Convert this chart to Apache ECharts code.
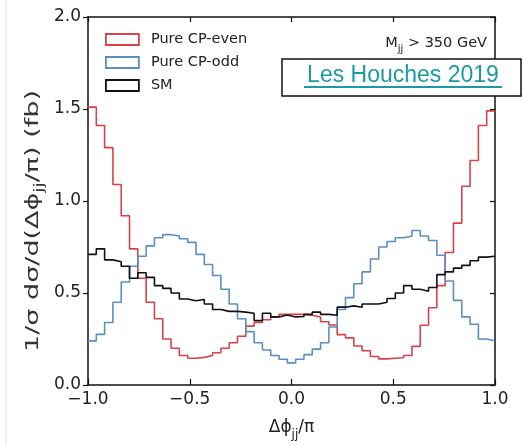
<!DOCTYPE html>
<html>
<head>
<meta charset="utf-8">
<script src="https://cdn.jsdelivr.net/npm/echarts/dist/echarts.min.js"></script>
<style>
html,body{margin:0;padding:0;background:#fff;}
#c{width:523px;height:446px;}
</style>
</head>
<body>
<div id="c"></div>
<script>
// ---- data (49 equal bins from xMin to xMax) ----
const xMin = -1.0, xMax = 1.0;
const yTicks = [0.0, 0.5, 1.0, 1.5, 2.0];
const xTicks = [-1.0, -0.5, 0.0, 0.5, 1.0];
const seriesNames = ['Pure CP-even', 'Pure CP-odd', 'SM'];
const cpEven = [1.51,1.41,1.29,1.09,0.92,0.74,0.58,0.45,0.36,0.25,0.20,0.16,0.145,0.15,0.16,0.175,0.20,0.23,0.265,0.32,0.34,0.355,0.37,0.384,0.384,0.384,0.379,0.37,0.344,0.326,0.274,0.256,0.212,0.186,0.155,0.142,0.145,0.148,0.16,0.21,0.325,0.42,0.54,0.72,0.88,1.08,1.22,1.41,1.49];
const cpOdd = [0.24,0.275,0.34,0.45,0.56,0.645,0.70,0.756,0.80,0.817,0.81,0.795,0.775,0.71,0.655,0.595,0.52,0.44,0.36,0.29,0.23,0.19,0.16,0.14,0.12,0.14,0.165,0.195,0.23,0.315,0.41,0.475,0.55,0.615,0.685,0.75,0.78,0.80,0.81,0.84,0.81,0.785,0.705,0.565,0.46,0.37,0.33,0.25,0.24];
const sm = [0.71,0.74,0.68,0.67,0.645,0.58,0.61,0.585,0.54,0.525,0.50,0.467,0.458,0.465,0.44,0.41,0.40,0.40,0.396,0.39,0.35,0.39,0.37,0.38,0.37,0.372,0.384,0.396,0.384,0.379,0.423,0.43,0.423,0.44,0.44,0.45,0.47,0.50,0.54,0.52,0.51,0.53,0.60,0.615,0.635,0.65,0.675,0.695,0.70];
const yLabel = '{n|1/σ dσ/d(Δϕ}{s|jj}{n|/π) (fb)}';

const colors = ['#d8424a', '#5a8fc4', '#111111'];

function stepData(vals) {
  const w = (xMax - xMin) / vals.length;
  const d = vals.map((v, i) => [xMin + i * w, v]);
  d.push([xMax, vals[vals.length - 1]]);
  return d;
}
const fmt = v => (v < 0 ? '\u2212' : '') + Math.abs(v).toFixed(1);

const FONT = 'DejaVu Sans';
const chart = echarts.init(document.getElementById('c'), null, {renderer: 'canvas'});
const axisLine = {show: true, onZero: false, lineStyle: {color: '#111', width: 1.5}};

chart.setOption({
  animation: false,
  backgroundColor: '#fff',
  grid: {left: 88, right: 28, top: 17, bottom: 49, containLabel: false},
  legend: {
    orient: 'vertical', left: 100, top: 27,
    itemWidth: 33, itemHeight: 11, itemGap: 8,
    icon: 'rect',
    textStyle: {fontFamily: FONT, fontSize: 14.5, color: '#222', padding: [0, 0, 0, 7]},
    data: seriesNames.map((n, i) => ({name: n, itemStyle: {color: 'transparent', borderColor: colors[i], borderWidth: 1.8}}))
  },
  xAxis: [{
    type: 'value', min: xMin, max: xMax, interval: 0.5, position: 'bottom',
    axisLine: axisLine,
    axisTick: {show: true, inside: true, length: 6, lineStyle: {color: '#111', width: 1.2}},
    axisLabel: {formatter: fmt, fontFamily: FONT, fontSize: 17, color: '#222', margin: 6},
    splitLine: {show: false},
    name: '{n|Δϕ}{s|jj}{n|/π}', nameLocation: 'middle', nameGap: 30,
    nameTextStyle: {rich: {
      n: {fontFamily: FONT, fontSize: 17, color: '#222', lineHeight: 26, verticalAlign: 'middle'},
      s: {fontFamily: FONT, fontSize: 12, color: '#222', lineHeight: 26, verticalAlign: 'bottom'}
    }}
  }, {
    type: 'value', min: xMin, max: xMax, interval: 0.5, position: 'top',
    axisLine: axisLine,
    axisTick: {show: true, inside: true, length: 5, lineStyle: {color: '#111', width: 1.2}},
    axisLabel: {show: false}, splitLine: {show: false}
  }],
  yAxis: [{
    type: 'value', min: 0, max: 2, interval: 0.5, position: 'left',
    axisLine: axisLine,
    axisTick: {show: true, inside: false, length: 5, lineStyle: {color: '#111', width: 1.2}},
    axisLabel: {formatter: fmt, fontFamily: FONT, fontSize: 17, color: '#222', margin: 7},
    splitLine: {show: false}
  }, {
    type: 'value', min: 0, max: 2, interval: 0.5, position: 'right',
    axisLine: axisLine,
    axisTick: {show: true, inside: true, length: 5, lineStyle: {color: '#111', width: 1.2}},
    axisLabel: {show: false}, splitLine: {show: false}
  }],
  series: [cpEven, cpOdd, sm].map((vals, i) => ({
    name: seriesNames[i], type: 'line', step: 'end',
    xAxisIndex: 0, yAxisIndex: 0,
    data: stepData(vals), showSymbol: false, symbol: 'none',
    lineStyle: {color: colors[i], width: 1.6},
    itemStyle: {color: colors[i]},
    z: 2 + i
  })),
  graphic: [
    {type: 'line', shape: {x1: 6, y1: 0, x2: 6, y2: 446}, style: {stroke: '#e2e2e2', lineWidth: 1}, z: 1},
    {type: 'text', x: 33, y: 221, rotation: Math.PI / 2, scaleX: 1.5, z: 20,
      style: {text: yLabel, align: 'center', verticalAlign: 'middle',
        rich: {n: {fontFamily: FONT, fontSize: 18, fill: '#333', lineHeight: 26, verticalAlign: 'middle'},
               s: {fontFamily: FONT, fontSize: 12.5, fill: '#333', lineHeight: 26, verticalAlign: 'bottom'}}}},
    {type: 'text', x: 487, y: 43, z: 20,
      style: {text: '{a|M}{s|jj}{a| > 350 GeV}', align: 'right', verticalAlign: 'middle',
        rich: {a: {fontFamily: FONT, fontSize: 14.5, fill: '#222', lineHeight: 22, verticalAlign: 'middle'},
               s: {fontFamily: FONT, fontSize: 10, fill: '#222', lineHeight: 22, verticalAlign: 'bottom'}}}},
    {type: 'rect', shape: {x: 282, y: 59, width: 239, height: 37}, style: {fill: '#fff', stroke: '#111', lineWidth: 1.5}, z: 30},
    {type: 'text', x: 403, y: 76, z: 31,
      style: {text: 'Les Houches 2019', font: '23px "Liberation Sans"', fill: '#1b9aa5', align: 'center', verticalAlign: 'middle'}},
    {type: 'line', shape: {x1: 304, y1: 87, x2: 502, y2: 87}, style: {stroke: '#1b9aa5', lineWidth: 2}, z: 31}
  ]
});
</script>
</body>
</html>
